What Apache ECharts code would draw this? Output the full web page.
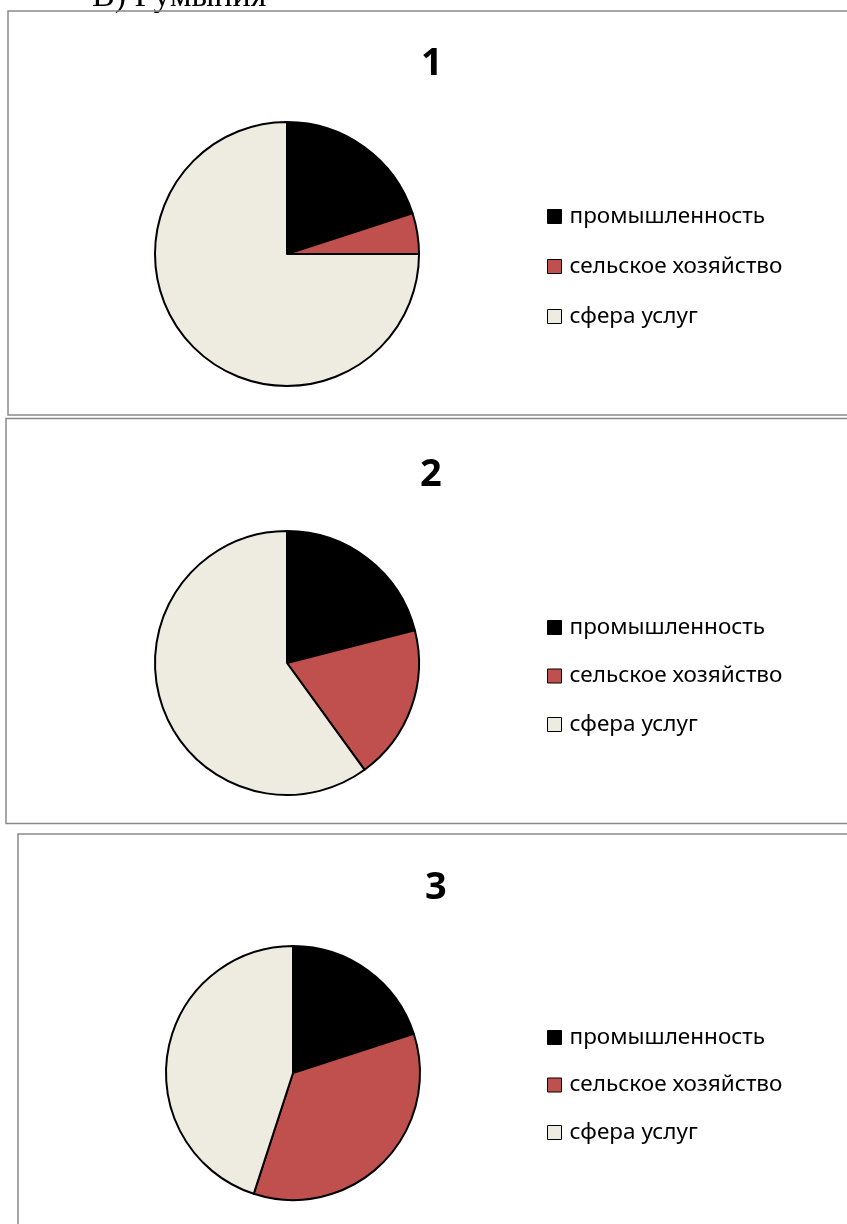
<!DOCTYPE html>
<html>
<head>
<meta charset="utf-8">
<script src="https://cdn.jsdelivr.net/npm/echarts@6/dist/echarts.min.js"></script>
<style>
  html, body { margin: 0; padding: 0; background: #fff; }
  #main { width: 847px; height: 1224px; }
</style>
</head>
<body>
<div id="main"></div>
<script>
// категории и доли (%)
const categories = ["промышленность", "сельское хозяйство", "сфера услуг"];
const colors = ["#000000", "#C0504D", "#EEECE1"];
const values1 = [20, 5, 75];
const values2 = [21, 19, 60];
const values3 = [20, 35, 45];
const titles = ["1", "2", "3"];

const font = "'Noto Sans', 'Open Sans', sans-serif";
const chart = echarts.init(document.getElementById("main"));

// размещение трёх панелей
const panels = [
  { values: values1, center: [287, 254], r: 132, title: [428, 40], legendTop: 205, gap: 27 },
  { values: values2, center: [287, 663], r: 132, title: [427, 451], legendTop: 616, gap: 25.5 },
  { values: values3, center: [293, 1073], r: 127, title: [432, 864], legendTop: 1026, gap: 24.5 },
];

const toData = (vals) =>
  vals.map((v, i) => ({ name: categories[i], value: v, itemStyle: { color: colors[i] } }));

const options = {
  animation: false,
  title: panels.map((p, i) => ({
    text: titles[i],
    left: p.title[0] - 12,
    top: p.title[1],
    textStyle: { fontFamily: font, fontSize: 38, fontWeight: "bold", color: "#000" },
  })),
  legend: panels.map((p, i) => ({
    seriesIndex: i,
    orient: "vertical",
    left: 547,
    top: p.legendTop,
    padding: 0,
    icon: "rect",
    itemWidth: 14,
    itemHeight: 14,
    itemGap: p.gap,
    selectedMode: false,
    itemStyle: { borderColor: "#000", borderWidth: 1 },
    textStyle: { fontFamily: font, fontSize: 22.5, lineHeight: 22, color: "#000", padding: [0, 0, 0, 3] },
    data: categories,
  })),
  series: panels.map((p) => ({
    type: "pie",
    center: p.center,
    radius: p.r,
    startAngle: 90,
    clockwise: true,
    label: { show: false },
    labelLine: { show: false },
    emphasis: { disabled: true },
    itemStyle: { borderColor: "#000", borderWidth: 2 },
    data: toData(p.values),
  })),
  graphic: [
    {
      type: "text",
      left: 92,
      top: -20,
      style: { text: "В) Румыния", font: "34px 'Liberation Serif'", fill: "#000" },
    },
    // рамки панелей
    { type: "rect", shape: { x: 8, y: 11, width: 900, height: 404 }, style: { fill: null, stroke: "#8a8a8a", lineWidth: 1.5 } },
    { type: "rect", shape: { x: 6, y: 418.5, width: 900, height: 405 }, style: { fill: null, stroke: "#8a8a8a", lineWidth: 1.5 } },
    { type: "rect", shape: { x: 18, y: 834, width: 900, height: 500 }, style: { fill: null, stroke: "#8a8a8a", lineWidth: 1.5 } },
  ],
};
chart.setOption(options);
</script>
</body>
</html>
